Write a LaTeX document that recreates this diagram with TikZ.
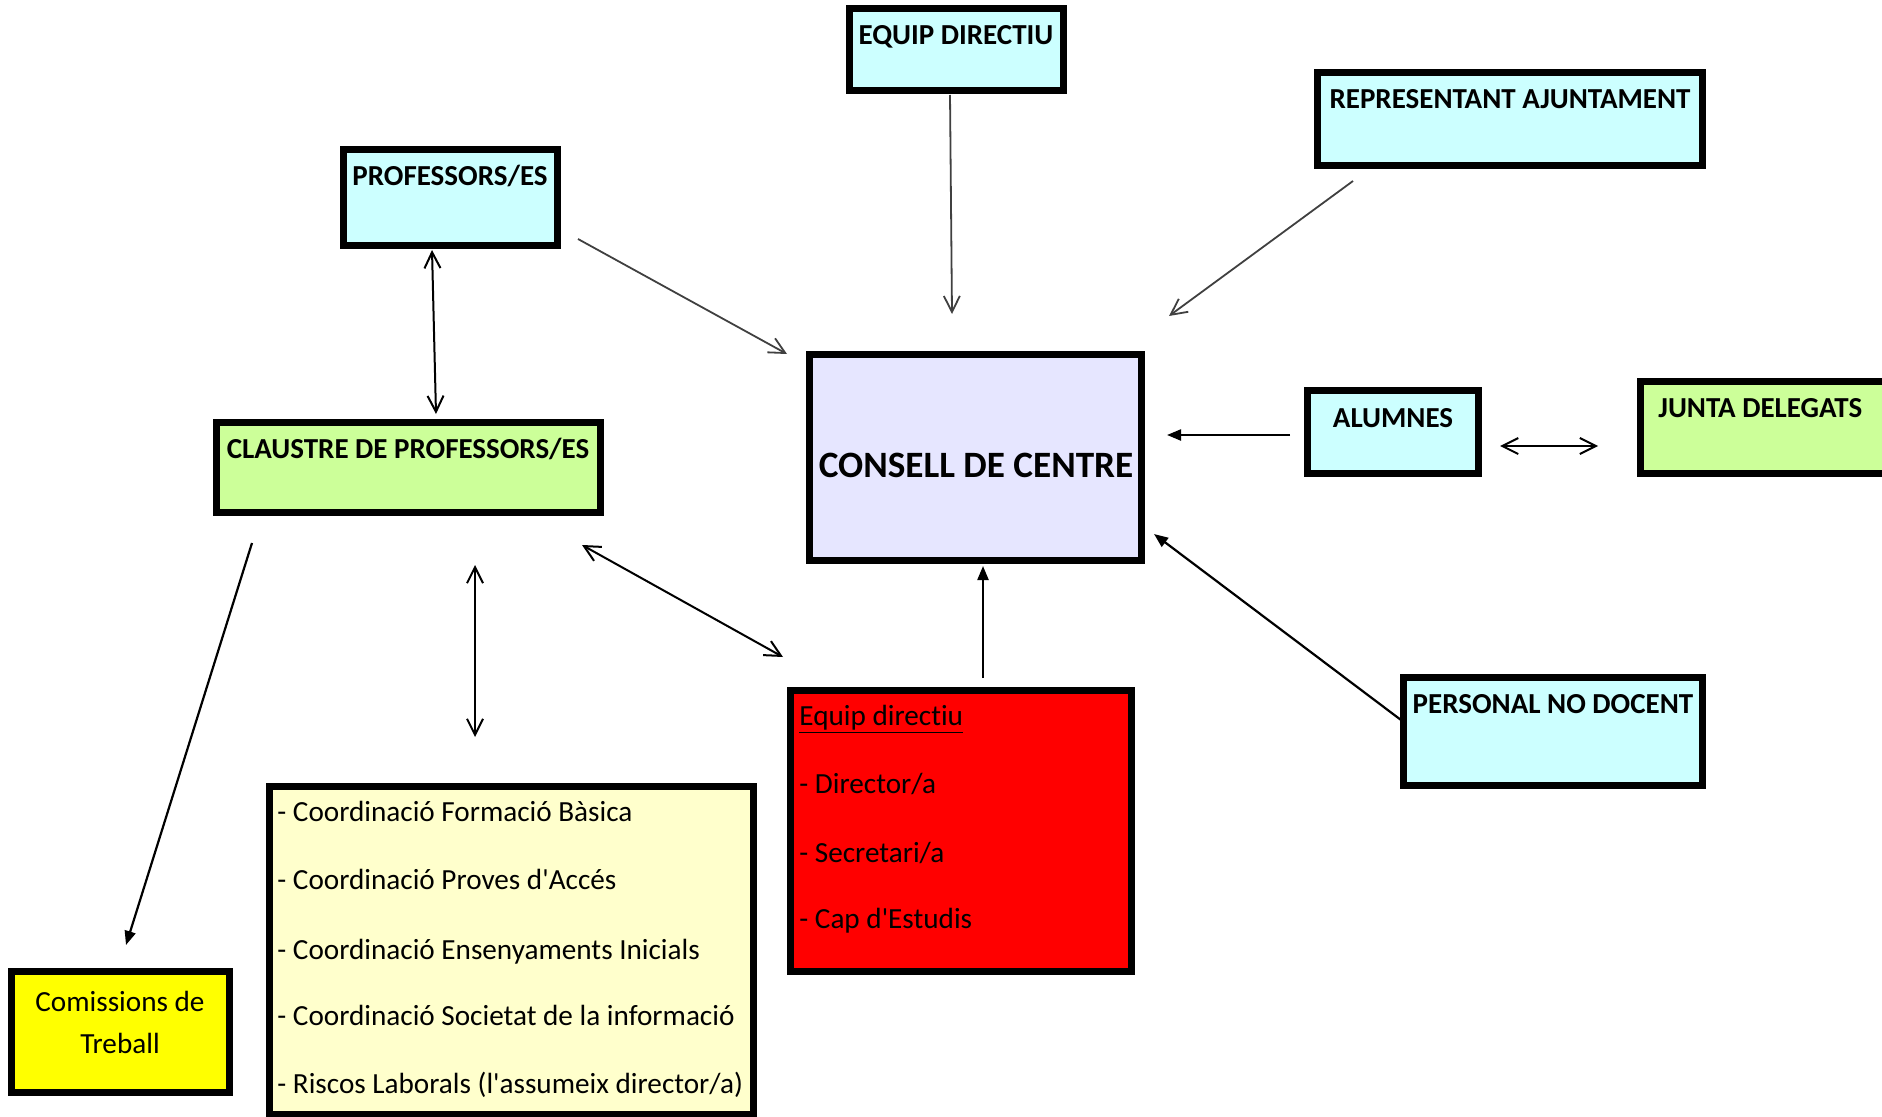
\documentclass[tikz,border=0pt]{standalone}
\usepackage{fontspec}
\setmainfont{Carlito}[Ligatures={NoCommon}]
\usetikzlibrary{arrows.meta,fit}
\definecolor{cyanbox}{HTML}{CCFFFF}
\definecolor{greenbox}{HTML}{CCFF99}
\definecolor{lavbox}{HTML}{E6E6FF}
\definecolor{redbox}{HTML}{FF0000}
\definecolor{paleyellow}{HTML}{FFFFCC}
\definecolor{yellowbox}{HTML}{FFFF00}
\definecolor{arrowgray}{HTML}{404040}
\tikzset{
  box/.style={draw=black, line width=3.5pt, inner sep=0pt},
  lbl/.style={font=\fontsize{14.5}{17}\selectfont\bfseries, inner sep=0pt, anchor=base},
  txt/.style={font=\fontsize{14.6}{17}\selectfont, inner sep=0pt, anchor=base west},
  openarrow/.style={line width=1pt, black, {Straight Barb[length=8pt,width=8pt]}-{Straight Barb[length=8pt,width=8pt]}},
  grayarrow/.style={line width=0.9pt, arrowgray, -{Straight Barb[length=8pt,width=8pt]}},
  filledarrow/.style={line width=1.1pt, black, -{Triangle[length=7pt,width=5.5pt]}}
}
\begin{document}
\begin{tikzpicture}[x=0.5pt,y=-0.5pt]
\useasboundingbox (0,0) rectangle (1882,1117);
\clip (0,0) rectangle (1882,1117);
% boxes
\node[box, fill=cyanbox, fit={(849.5,8.5) (1063.5,90.5)}] (equip) {};
\node[box, fill=cyanbox, fit={(1317.5,72.5) (1702.5,165.5)}] (repr) {};
\node[box, fill=cyanbox, fit={(343.5,149.5) (557.5,245.5)}] (prof) {};
\node[box, fill=greenbox, fit={(216.5,422.5) (600.5,512.5)}] (claustre) {};
\node[box, fill=lavbox, fit={(809.5,354.5) (1141.5,560.5)}] (consell) {};
\node[box, fill=cyanbox, fit={(1307.5,390.5) (1478.5,473.5)}] (alumnes) {};
\node[box, fill=greenbox, fit={(1640.5,381.5) (1893,473.5)}] (junta) {};
\node[box, fill=cyanbox, fit={(1403.5,677.5) (1702.5,785.5)}] (personal) {};
\node[box, fill=redbox, fit={(790.5,690.5) (1131.5,971.5)}] (red) {};
\node[box, fill=paleyellow, fit={(269.5,786.5) (753.5,1114.5)}] (coord) {};
\node[box, fill=yellowbox, fit={(11.5,971.5) (229.5,1092.5)}] (comiss) {};
% labels
\node[lbl] (equipt) at (956,45) {EQUIP DIRECTIU};
\node[lbl] (reprt) at (1510,109) {REPRESENTANT AJUNTAMENT};
\node[lbl] (proft) at (450,186) {PROFESSORS/ES};
\node[lbl] (claustret) at (408,458) {CLAUSTRE DE PROFESSORS/ES};
\node[lbl, font=\fontsize{18.6}{22}\selectfont\bfseries] (consellt) at (976,477) {CONSELL DE CENTRE};
\node[lbl] (alumnest) at (1393,427) {ALUMNES};
\node[lbl, anchor=base west] (juntat) at (1658,417) {JUNTA DELEGATS};
\node[lbl] (personalt) at (1553,713) {PERSONAL NO DOCENT};
\node[txt] (red1) at (799,725) {\underline{Equip directiu}};
\node[txt] (red2) at (799,793) {- Director/a};
\node[txt] (red3) at (799,862) {- Secretari/a};
\node[txt] (red4) at (799,928) {- Cap d\textquotesingle Estudis};
\node[txt] (co1) at (277,821) {- Coordinació Formació Bàsica};
\node[txt] (co2) at (277,889) {- Coordinació Proves d\textquotesingle Accés};
\node[txt] (co3) at (277,959) {- Coordinació Ensenyaments Inicials};
\node[txt] (co4) at (277,1025) {- Coordinació Societat de la informació};
\node[txt] (co5) at (277,1093) {- Riscos Laborals (l\textquotesingle assumeix director/a)};
\node[txt, anchor=base] (cm1) at (120,1011) {Comissions de};
\node[txt, anchor=base] (cm2) at (120,1053) {Treball};
% connector ends
\coordinate (a1s) at (950,95);
\coordinate (a1e) at (952,314);
\coordinate (a2s) at (1353,181);
\coordinate (a2e) at (1169,316);
\coordinate (a3s) at (578,239);
\coordinate (a3e) at (787,354);
\coordinate (a4s) at (432,250);
\coordinate (a4e) at (436,414);
\coordinate (a5s) at (1290,435);
\coordinate (a5e) at (1167,435);
\coordinate (a6s) at (1500,446);
\coordinate (a6e) at (1598,446);
\coordinate (a7s) at (1401,720);
\coordinate (a7e) at (1154,534);
\coordinate (a8s) at (983,678);
\coordinate (a8e) at (983,566);
\coordinate (a9s) at (582,545);
\coordinate (a9e) at (783,657);
\coordinate (a10s) at (475,565);
\coordinate (a10e) at (475,737);
\coordinate (a11s) at (252,543);
\coordinate (a11e) at (126,945);
% connectors
\draw[grayarrow] (a1s) -- (a1e);
\draw[grayarrow] (a2s) -- (a2e);
\draw[grayarrow] (a3s) -- (a3e);
\draw[openarrow] (a4s) -- (a4e);
\draw[filledarrow] (a5s) -- (a5e);
\draw[openarrow] (a6s) -- (a6e);
\draw[filledarrow] (a7s) -- (a7e);
\draw[filledarrow] (a8s) -- (a8e);
\draw[openarrow] (a9s) -- (a9e);
\draw[openarrow] (a10s) -- (a10e);
\draw[filledarrow] (a11s) -- (a11e);
\end{tikzpicture}
\end{document}
